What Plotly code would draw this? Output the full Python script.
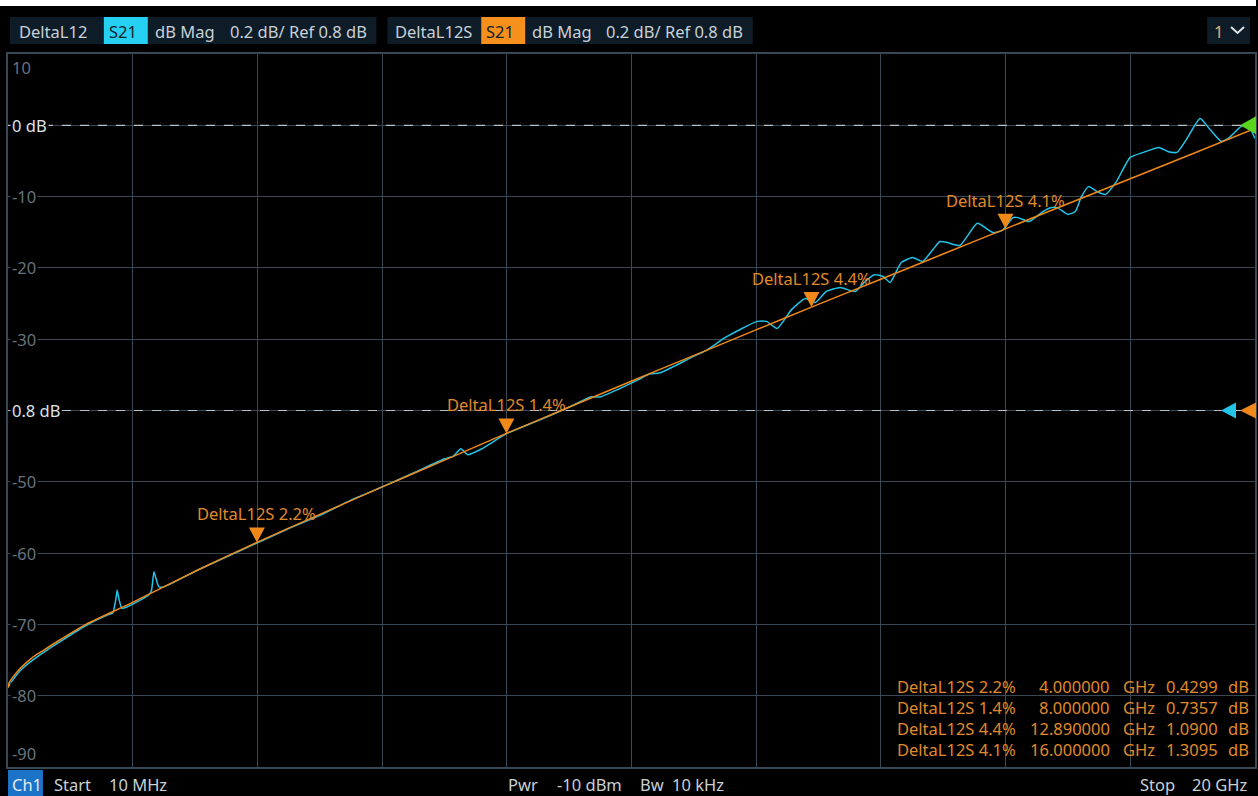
import plotly.graph_objects as go

# ---------------- data ----------------
freq_start_ghz = 0.01
freq_stop_ghz = 20.0
ref_db = 0.8
scale_db_div = 0.2
n_div = 10

# DeltaL12S (orange, smooth fit)
orange_f = [0.01, 0.03, 0.1, 0.22, 0.4, 0.55, 0.8, 1.26, 2.0, 3.07, 4.0, 5.0, 6.0, 7.0, 8.0,
            9.0, 10.0, 11.0, 12.0, 12.89, 14.0, 15.0, 16.0, 17.0, 18.0, 19.0, 20.0]
orange_db = [0.023, 0.037, 0.055, 0.079, 0.107, 0.124, 0.152, 0.200, 0.261, 0.354, 0.430, 0.508,
             0.585, 0.660, 0.7357, 0.809, 0.882, 0.954, 1.026, 1.090, 1.168, 1.239, 1.3095,
             1.380, 1.450, 1.520, 1.591]

# DeltaL12 (cyan, measured)
cyan_f = [0.01, 0.09, 0.22, 0.55, 1.26, 1.63, 1.69, 1.74, 1.76, 1.79, 1.84, 2.27, 2.31, 2.35,
          2.38, 2.43, 2.52, 3.07, 4.0, 4.5, 5.0, 5.5, 6.0, 6.5, 7.0, 7.15, 7.27, 7.38, 7.6,
          8.0, 8.5, 9.0, 9.2, 9.35, 9.5, 9.8, 10.1, 10.3, 10.45, 10.7, 11.0, 11.2, 11.51,
          12.02, 12.17, 12.34,
          12.57, 12.79, 12.95, 13.13, 13.35, 13.59, 13.75, 13.90, 14.04, 14.15, 14.33, 14.51,
          14.67, 14.84, 14.95, 15.07, 15.27, 15.55, 15.80, 15.95, 16.12, 16.20, 16.38, 16.60,
          16.72, 16.83, 17.00, 17.12, 17.21, 17.33, 17.47, 17.60, 17.77, 18.00, 18.21, 18.46,
          18.61, 18.75, 18.90, 19.12, 19.28, 19.46, 19.57, 19.78, 19.89, 20.0]
cyan_db = [0.023, 0.045, 0.073, 0.118, 0.197, 0.228, 0.232, 0.272, 0.296, 0.270, 0.245, 0.283,
           0.295, 0.348, 0.330, 0.305, 0.306, 0.354, 0.428, 0.468, 0.505, 0.548, 0.585, 0.624,
           0.664, 0.672, 0.693, 0.676, 0.692,
           0.735, 0.771, 0.809, 0.826, 0.838, 0.838, 0.860, 0.885, 0.903, 0.905, 0.925, 0.952,
           0.968, 1.005,
           1.050, 1.050, 1.030, 1.083, 1.114, 1.103, 1.134, 1.145,
           1.134, 1.162, 1.181, 1.176, 1.159, 1.215, 1.229, 1.218, 1.252, 1.274, 1.271, 1.263,
           1.325, 1.299, 1.305, 1.341, 1.341, 1.330, 1.358, 1.369, 1.369, 1.350, 1.358, 1.397,
           1.428, 1.414, 1.406, 1.440, 1.510, 1.524, 1.538, 1.526, 1.524, 1.560, 1.619, 1.588,
           1.555, 1.563, 1.597, 1.599, 1.563]

marker_names = ["DeltaL12S 2.2%", "DeltaL12S 1.4%", "DeltaL12S 4.4%", "DeltaL12S 4.1%"]
marker_f = [4.0, 8.0, 12.89, 16.0]
marker_db = [0.4299, 0.7357, 1.0900, 1.3095]

y_tick_text = ["-90", "-80", "-70", "-60", "-50", "0.8 dB", "-30", "-20", "-10", "0 dB", "10"]
dashed_lines_db = [0.8, 1.6]
header1 = ["DeltaL12", "S21", "dB Mag", "0.2 dB/ Ref 0.8 dB"]
header2 = ["DeltaL12S", "S21", "dB Mag", "0.2 dB/ Ref 0.8 dB"]
footer = ["Ch1", "Start", "10 MHz", "Pwr", "-10 dBm", "Bw", "10 kHz", "Stop", "20 GHz"]

# ---------------- style ----------------
W, H = 1258, 796
L, R, T, B = 8, 1, 54, 29
PW, PH = W - L - R, H - T - B
CYAN = "#22c4e8"
ORANGE = "#f0891a"
ORANGE_TXT = "#e08a2a"
GRID = "#3a4854"
TXT = "#c9d0d6"
DIM = "#66737e"
FONT = "Noto Sans"
FS = 16.5


def X(px):
    return (px - L) / PW


def Y(py):
    return (H - B - py) / PH


y_min = ref_db - scale_db_div * n_div / 2
y_max = ref_db + scale_db_div * n_div / 2
y_ticks = [y_min + scale_db_div * k for k in range(n_div + 1)]
x_step = (freq_stop_ghz - freq_start_ghz) / n_div
x_ticks = [freq_start_ghz + x_step * k for k in range(1, n_div)]

fig = go.Figure()
fig.add_trace(go.Scatter(x=cyan_f, y=cyan_db, mode="lines",
                         line=dict(color=CYAN, width=1.5, shape="spline", smoothing=0.5),
                         hoverinfo="skip", showlegend=False))
fig.add_trace(go.Scatter(x=orange_f, y=orange_db, mode="lines",
                         line=dict(color=ORANGE, width=1.5, shape="spline", smoothing=0.6),
                         hoverinfo="skip", showlegend=False))

shapes = []
annotations = []

# dashed reference lines
for v in dashed_lines_db:
    shapes.append(dict(type="line", xref="paper", yref="y", x0=0, x1=1, y0=v, y1=v,
                       line=dict(color="#b8c0c8", width=1.2, dash="dash"), layer="above"))

# y labels
for v, t in zip(y_ticks, y_tick_text):
    bright = "dB" in t
    ya = "middle"
    if v == y_max:
        ya = "top"
    elif v == y_min:
        ya = "bottom"
    annotations.append(dict(x=X(10), y=v, xref="paper", yref="y", text=t, showarrow=False,
                            xanchor="left", yanchor=ya, bgcolor="black", borderpad=1,
                            font=dict(family=FONT, size=FS, color="#dfe3e7" if bright else DIM)))

# markers
for name, f, v in zip(marker_names, marker_f, marker_db):
    shapes.append(dict(type="path", xref="x", yref="y", xsizemode="pixel", ysizemode="pixel",
                       xanchor=f, yanchor=v, path="M -8,15 L 8,15 L 0,0 Z",
                       fillcolor=ORANGE, line=dict(width=0), layer="above"))
    annotations.append(dict(x=f, y=v, xref="x", yref="y", text=name, showarrow=False,
                            xanchor="center", yanchor="bottom", yshift=15,
                            font=dict(family=FONT, size=FS, color=ORANGE_TXT)))

# right-edge reference arrows
shapes.append(dict(type="path", xref="paper", yref="y", xsizemode="pixel", ysizemode="pixel",
                   xanchor=1, yanchor=ref_db, path="M -34,0 L -19,8 L -19,-8 Z",
                   fillcolor=CYAN, line=dict(width=0), layer="above"))
shapes.append(dict(type="path", xref="paper", yref="y", xsizemode="pixel", ysizemode="pixel",
                   xanchor=1, yanchor=ref_db, path="M -15,0 L 1,8 L 1,-8 Z",
                   fillcolor=ORANGE, line=dict(width=0), layer="above"))
shapes.append(dict(type="path", xref="paper", yref="y", xsizemode="pixel", ysizemode="pixel",
                   xanchor=1, yanchor=dashed_lines_db[1], path="M -15,0 L 1,9 L 1,-9 Z",
                   fillcolor="#5ad41e", line=dict(width=0), layer="above"))

# marker table
row_y = [686, 707, 728, 749]
for name, f, v, ry in zip(marker_names, marker_f, marker_db, row_y):
    fnt = dict(family=FONT, size=FS, color=ORANGE_TXT)
    annotations.append(dict(x=X(896), y=Y(ry), xref="paper", yref="paper", text=name,
                            showarrow=False, xanchor="left", yanchor="middle", font=fnt))
    annotations.append(dict(x=X(1114), y=Y(ry), xref="paper", yref="paper", text=f"{f:.6f}",
                            showarrow=False, xanchor="right", yanchor="middle", font=fnt))
    annotations.append(dict(x=X(1123), y=Y(ry), xref="paper", yref="paper", text="GHz",
                            showarrow=False, xanchor="left", yanchor="middle", font=fnt))
    annotations.append(dict(x=X(1222), y=Y(ry), xref="paper", yref="paper", text=f"{v:.4f}",
                            showarrow=False, xanchor="right", yanchor="middle", font=fnt))
    annotations.append(dict(x=X(1228), y=Y(ry), xref="paper", yref="paper", text="dB",
                            showarrow=False, xanchor="left", yanchor="middle", font=fnt))

# top white strip
shapes.append(dict(type="rect", xref="paper", yref="paper", x0=X(0), x1=X(W), y0=Y(6), y1=Y(0),
                   fillcolor="white", line=dict(width=0), layer="above"))

# header boxes
HB = "#0e1c28"
for x0, x1 in [(10, 377), (388, 754), (1209, 1252)]:
    shapes.append(dict(type="rect", xref="paper", yref="paper", x0=X(x0), x1=X(x1), y0=Y(44),
                       y1=Y(17), fillcolor=HB, line=dict(width=0)))
shapes.append(dict(type="rect", xref="paper", yref="paper", x0=X(104), x1=X(148), y0=Y(44),
                   y1=Y(17), fillcolor="#25d0f2", line=dict(width=0)))
shapes.append(dict(type="rect", xref="paper", yref="paper", x0=X(482), x1=X(526), y0=Y(44),
                   y1=Y(17), fillcolor="#f5901c", line=dict(width=0)))
# chevron
shapes.append(dict(type="path", xref="paper", yref="paper",
                   path=f"M {X(1233)},{Y(27)} L {X(1239.5)},{Y(33)} L {X(1246)},{Y(27)}",
                   line=dict(color="#dfe4e8", width=2)))

hy = Y(31)
for txt, px in zip(header1, [17, 107, 153, 228]):
    c = "#14222e" if txt == "S21" else TXT
    annotations.append(dict(x=X(px), y=hy, xref="paper", yref="paper", text=txt, showarrow=False,
                            xanchor="left", yanchor="middle", font=dict(family=FONT, size=FS, color=c)))
for txt, px in zip(header2, [394, 485, 531, 605]):
    c = "#14222e" if txt == "S21" else TXT
    annotations.append(dict(x=X(px), y=hy, xref="paper", yref="paper", text=txt, showarrow=False,
                            xanchor="left", yanchor="middle", font=dict(family=FONT, size=FS, color=c)))
annotations.append(dict(x=X(1214), y=hy, xref="paper", yref="paper", text="1", showarrow=False,
                        xanchor="left", yanchor="middle", font=dict(family=FONT, size=FS, color="#e0b070")))

# footer
shapes.append(dict(type="rect", xref="paper", yref="paper", x0=X(8), x1=X(43), y0=Y(796),
                   y1=Y(770), fillcolor="#1b73c8", line=dict(width=0)))
fy = Y(784)
for txt, px in zip(footer, [10, 52, 107, 507, 556, 639, 671, 1140, 1192]):
    annotations.append(dict(x=X(px), y=fy, xref="paper", yref="paper", text=txt, showarrow=False,
                            xanchor="left", yanchor="middle",
                            font=dict(family=FONT, size=FS, color="#e6eaee" if txt == "Ch1" else TXT)))

fig.update_layout(
    width=W, height=H, autosize=False,
    margin=dict(l=L, r=R, t=T, b=B, pad=0),
    paper_bgcolor="black", plot_bgcolor="black",
    showlegend=False,
    shapes=shapes, annotations=annotations,
    xaxis=dict(range=[freq_start_ghz, freq_stop_ghz], tickvals=x_ticks, showticklabels=False,
               showgrid=True, gridcolor=GRID, gridwidth=1.2, zeroline=False,
               showline=True, linecolor=GRID, linewidth=1.5, mirror=True, ticks=""),
    yaxis=dict(range=[y_min, y_max], tickvals=y_ticks, showticklabels=False,
               showgrid=True, gridcolor=GRID, gridwidth=1.2, zeroline=False,
               showline=True, linecolor=GRID, linewidth=1.5, mirror=True, ticks=""),
)

fig.write_html("out.html", config={"displayModeBar": False},
               post_script="document.body.style.margin='0';document.body.style.overflow='hidden';")
